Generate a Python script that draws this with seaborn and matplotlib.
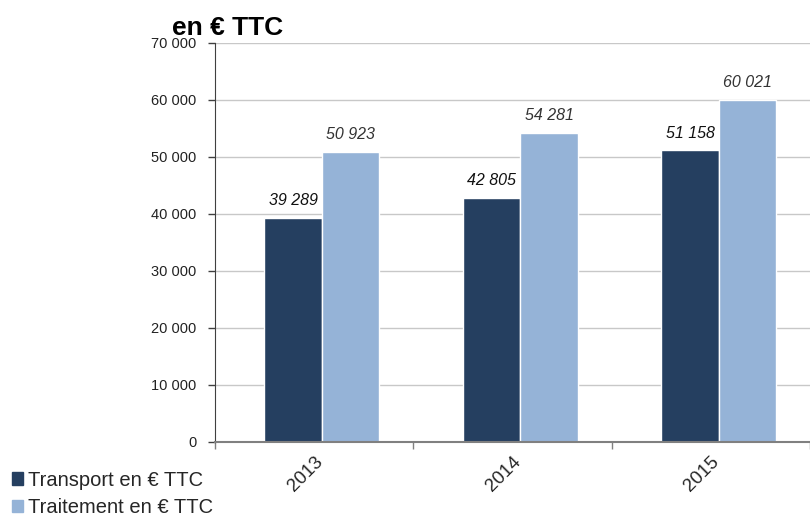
import numpy as np
import pandas as pd
import matplotlib
matplotlib.use("Agg")
import matplotlib.pyplot as plt
import seaborn as sns
from matplotlib.ticker import FuncFormatter, FixedLocator

years = ["2013", "2014", "2015"]
transport = [39289, 42805, 51158]
traitement = [50923, 54281, 60021]
series_names = ["Transport en € TTC", "Traitement en € TTC"]
colors = ["#253F60", "#95B3D7"]

df = pd.DataFrame({
    "year": years * 2,
    "value": transport + traitement,
    "serie": [series_names[0]] * 3 + [series_names[1]] * 3,
})

sns.set_style("white")
plt.rcParams["font.family"] = ["Liberation Sans", "DejaVu Sans"]

fig = plt.figure(figsize=(8.1, 5.18), dpi=100)
ax = fig.add_axes([0.265, 0.147, 0.735, 0.77])

sns.barplot(data=df, x="year", y="value", hue="serie", palette=colors,
            width=0.58, saturation=1, ax=ax, legend=False)

# bars sit a little right of the category centre in the original
for p in ax.patches:
    p.set_x(p.get_x() + 0.04)

ax.set_ylim(0, 70000)
ax.set_xlim(-0.5, 2.5)
ax.set_yticks(np.arange(0, 70001, 10000))
ax.yaxis.set_major_formatter(FuncFormatter(lambda v, p: "{:,}".format(int(v)).replace(",", " ")))
ax.grid(axis="y", color="#c8c8c8", linewidth=1)
ax.set_axisbelow(True)
ax.set_xlabel("")
ax.set_ylabel("")

# ticks between categories, labels at centers
ax.xaxis.set_major_locator(FixedLocator([-0.5, 0.5, 1.5, 2.5]))
ax.xaxis.set_major_formatter(FuncFormatter(lambda v, p: ""))
ax.xaxis.set_minor_locator(FixedLocator([0, 1, 2]))
ax.set_xticklabels(years, minor=True, rotation=45, fontsize=13.5, ha="right",
                   rotation_mode="anchor")
ax.tick_params(axis="x", which="minor", length=0, pad=8)
ax.tick_params(axis="x", which="major", length=5, width=1, color="#808080", direction="out", bottom=True)
ax.tick_params(axis="y", length=5, width=1, color="#404040", direction="out", left=True,
               labelsize=10.5, labelcolor="#222222", pad=8)

for s in ["top", "right"]:
    ax.spines[s].set_visible(False)
ax.spines["left"].set_color("#404040")
ax.spines["bottom"].set_color("#808080")
ax.spines["bottom"].set_linewidth(1.5)

for cont, col in zip(ax.containers, ["#111111", "#333333"]):
    ax.bar_label(cont, labels=["{:,}".format(int(v)).replace(",", " ") for v in cont.datavalues],
                 padding=7, fontsize=11.5, fontstyle="italic", color=col)

fig.text(0.212, 0.945, "en € TTC", fontsize=19, fontweight="bold", ha="left", va="center",
         color="black")

handles = [plt.Rectangle((0, 0), 1, 1, color=c) for c in colors]
fig.legend(handles, series_names, loc="upper left", bbox_to_anchor=(0.007, 0.103),
           frameon=False, fontsize=14.5, handlelength=0.55, handleheight=0.55,
           handletextpad=0.25, labelspacing=0.42, borderaxespad=0.0, borderpad=0.3)

fig.savefig("out.png", dpi=100)
